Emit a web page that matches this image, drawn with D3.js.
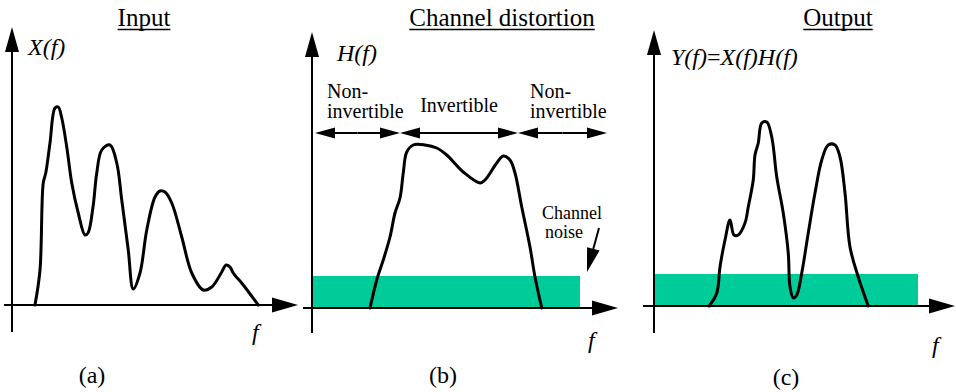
<!DOCTYPE html>
<html>
<head>
<meta charset="utf-8">
<title>Channel distortion</title>
<style type="text/css">
	body{ margin:0; background:#fff; }
</style>
</head>
<body>
<div id="board"></div>
<script src="https://cdn.jsdelivr.net/npm/d3@7/dist/d3.min.js"></script>
<script>
// f runs 0..10, amplitude 0..1
var inputF  = [0.92,1.12,1.25,1.35,1.52,1.72,1.85,1.99,2.19,2.39,2.65,2.92,3.04,3.24,3.39,3.59,3.92,4.19,4.39,4.65,4.85,5.12,5.39,5.72,5.92,6.12,6.39,6.79,7.19,7.65,7.99,8.39,8.56,8.72,8.85,9.25,9.85];
var inputA  = [0,0.175,0.61,0.66,0.81,0.985,0.99,0.935,0.79,0.61,0.46,0.35,0.36,0.49,0.66,0.775,0.80,0.71,0.525,0.275,0.08,0.16,0.375,0.54,0.57,0.565,0.51,0.34,0.16,0.075,0.09,0.165,0.20,0.19,0.16,0.10,0];

var channelF = [2.32,2.59,2.85,3.12,3.32,3.52,3.65,3.79,4.05,4.52,4.99,5.39,6.05,6.72,6.92,7.39,7.65,7.92,8.12,8.39,8.72,8.92,9.19];
var channelA = [0,0.14,0.24,0.355,0.475,0.55,0.675,0.78,0.815,0.815,0.80,0.765,0.68,0.625,0.64,0.725,0.76,0.74,0.675,0.505,0.305,0.155,0];

var outputF = [2.21,2.51,2.64,2.84,3.04,3.20,3.37,3.64,3.77,3.97,4.04,4.17,4.31,4.51,4.71,4.91,5.17,5.37,5.44,5.57,5.71,5.91,6.17,6.44,6.71,6.97,7.24,7.44,7.64,7.84,8.17,8.57];
var outputA = [0,0.065,0.195,0.33,0.43,0.355,0.355,0.415,0.495,0.63,0.755,0.815,0.915,0.92,0.845,0.645,0.465,0.265,0.095,0.04,0.055,0.165,0.365,0.565,0.73,0.805,0.805,0.745,0.565,0.295,0.145,0];

var noiseLevel = 0.16;
var noiseEnd = [null, 10.72, 10.56];

// invertibility regions of the channel
var regionFrom  = [0.12, 3.52, 8.24];
var regionTo    = [3.52, 8.24, 11.8];
var regionLabel = [["Non-","invertible"], ["Invertible"], ["Non-","invertible"]];
var regionLevel = 0.875;

var titles   = ["Input", "Channel distortion", "Output"];
var yLabels  = ["X(f)", "H(f)", "Y(f)=X(f)H(f)"];
var captions = ["(a)", "(b)", "(c)"];

var green = '#00cc99';

var panels = [
	{ ox:12,  oy:305, f:inputF,   a:inputA,   xr:[-0.32,11.44], yr:[-0.135,1.39], tx:144, ty:26, lx:28,  ly:55, fx:252, fy:340, cx:92,  cy:383 },
	{ ox:312, oy:308, f:channelF, a:channelA, xr:[-0.36,12.24], yr:[-0.125,1.38], tx:502, ty:26, lx:337, ly:61, fx:588, fy:348, cx:443, cy:383 },
	{ ox:654, oy:306, f:outputF,  a:outputA,  xr:[-0.44,12.04], yr:[-0.135,1.38], tx:838, ty:26, lx:671, ly:65, fx:932, fy:353, cx:786, cy:385 }
];

var svg = d3.select('#board').append('svg')
	.attr('width', 956).attr('height', 392);

function label(g, x, y, size, s){
	return g.append('text')
		.attr('x', x).attr('y', y)
		.attr('font-family', 'Liberation Serif')
		.attr('font-size', size)
		.attr('fill', '#000')
		.text(s);
}

function arrow(g, x1, y1, x2, y2, len, half, width){
	var dx = x2 - x1, dy = y2 - y1;
	var d = Math.sqrt(dx*dx + dy*dy);
	var ux = dx/d, uy = dy/d;
	var bx = x2 - ux*len, by = y2 - uy*len;
	g.append('line')
		.attr('x1', x1).attr('y1', y1).attr('x2', bx + ux).attr('y2', by + uy)
		.attr('stroke', '#000').attr('stroke-width', width);
	g.append('path')
		.attr('d', 'M' + x2 + ',' + y2 +
			'L' + (bx - uy*half) + ',' + (by + ux*half) +
			'L' + (bx + uy*half) + ',' + (by - ux*half) + 'Z')
		.attr('fill', '#000');
}

function dblArrow(g, x1, y, x2, len, half){
	var m = (x1 + x2)/2;
	arrow(g, m, y, x1, y, len, half, 2);
	arrow(g, m, y, x2, y, len, half, 2);
}

panels.forEach(function(p, i){
	var g = svg.append('g');
	var x = d3.scaleLinear().domain([0, 10]).range([p.ox, p.ox + 250]);
	var y = d3.scaleLinear().domain([0, 1]).range([p.oy, p.oy - 200]);

	// channel noise floor
	if(noiseEnd[i] !== null){
		g.append('rect')
			.attr('x', x(0)).attr('y', y(noiseLevel))
			.attr('width', x(noiseEnd[i]) - x(0))
			.attr('height', y(0) - y(noiseLevel))
			.attr('fill', green);
	}

	// axes
	arrow(g, x(0), y(p.yr[0]), x(0), y(p.yr[1]), 25, 7, 2);
	arrow(g, x(p.xr[0]), y(0), x(p.xr[1]), y(0), 26, 7.5, 2);

	// spectrum
	var pts = p.f.map(function(v, k){ return [v, p.a[k]]; });
	var line = d3.line()
		.x(function(d){ return x(d[0]); })
		.y(function(d){ return y(d[1]); })
		.curve(d3.curveCatmullRom.alpha(0.5));
	g.append('path')
		.attr('d', line(pts))
		.attr('fill', 'none')
		.attr('stroke', '#000')
		.attr('stroke-width', 3)
		.attr('stroke-linejoin', 'round')
		.attr('stroke-linecap', 'round');

	// title, underlined
	var t = label(g, p.tx, p.ty, 25, titles[i]).attr('text-anchor', 'middle');
	var w = t.node().getComputedTextLength();
	g.append('line')
		.attr('x1', p.tx - w/2).attr('x2', p.tx + w/2)
		.attr('y1', p.ty + 3.5).attr('y2', p.ty + 3.5)
		.attr('stroke', '#000').attr('stroke-width', 1.5);

	// y label, italic with upright "="
	var yl = label(g, p.lx, p.ly, 24, null);
	yLabels[i].split('=').forEach(function(part, k){
		if(k > 0) yl.append('tspan').text('=');
		yl.append('tspan').attr('font-style', 'italic').text(part);
	});

	label(g, p.fx, p.fy, 24, 'f').attr('font-style', 'italic');
	label(g, p.cx, p.cy, 24, captions[i]).attr('text-anchor', 'middle');

	if(i == 1){
		regionFrom.forEach(function(r, k){
			var x1 = x(r), x2 = x(regionTo[k]), ya = y(regionLevel);
			dblArrow(g, x1, ya, x2, 20, 5.5);
			var lab = regionLabel[k];
			if(lab.length == 1){
				label(g, (x1 + x2)/2, ya - 21, 20, lab[0]).attr('text-anchor', 'middle');
			}else{
				lab.forEach(function(s, j){
					label(g, x1 + 12, ya - 35 + j*20, 20, s);
				});
			}
		});

		label(g, 572, 219, 18, 'Channel').attr('text-anchor', 'middle');
		label(g, 564, 238, 18, 'noise').attr('text-anchor', 'middle');
		arrow(g, 599, 228, 587, 272, 24, 6.5, 2);
	}
});
</script>
</body>
</html>
